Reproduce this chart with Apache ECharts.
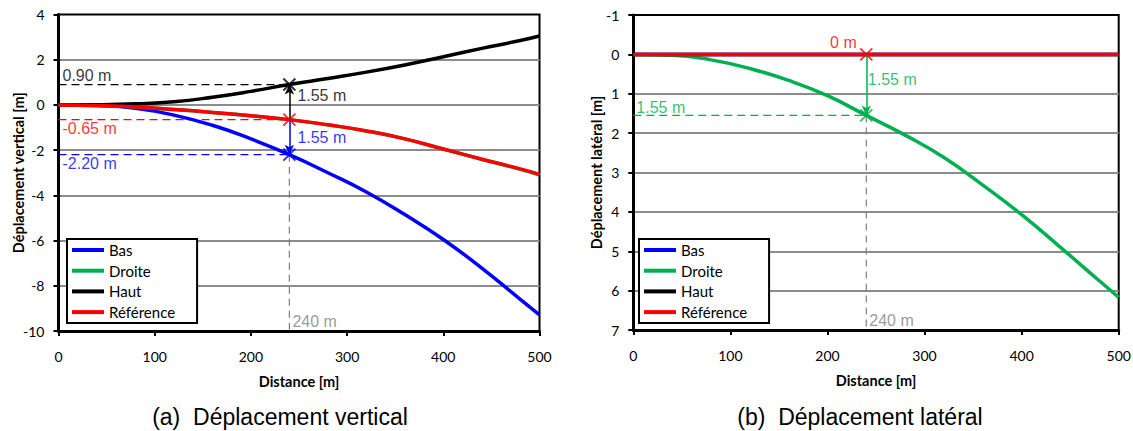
<!DOCTYPE html>
<html><head><meta charset="utf-8">
<script src="https://cdn.jsdelivr.net/npm/echarts@6/dist/echarts.min.js"></script>
<style>html,body{margin:0;padding:0;background:#fff}#c{width:1133px;height:431px}</style>
</head><body><div id="c"></div>
<script>
// ---------- DATA ----------
const distance        = [0, 40, 80, 120, 160, 200, 240, 280, 320, 360, 400, 440, 480, 500];
// (a) vertical displacement [m]
const basVertical     = [0, -0.03, -0.15, -0.45, -0.90, -1.50, -2.20, -3.00, -3.85, -4.85, -5.95, -7.22, -8.60, -9.29];
const droiteVertical  = [0, -0.02, -0.09, -0.20, -0.33, -0.48, -0.65, -0.88, -1.15, -1.50, -1.95, -2.40, -2.85, -3.10];
const hautVertical    = [0, 0.01, 0.05, 0.14, 0.34, 0.60, 0.90, 1.17, 1.45, 1.77, 2.13, 2.50, 2.85, 3.05];
const refVertical     = [0, -0.02, -0.09, -0.20, -0.33, -0.48, -0.65, -0.88, -1.15, -1.50, -1.95, -2.40, -2.83, -3.07];
// (b) lateral displacement [m]
const basLateral      = [0, 0, 0, 0, 0, 0, 0, 0, 0, 0, 0, 0, 0, 0];
const droiteLateral   = [0, 0.02, 0.14, 0.36, 0.66, 1.05, 1.55, 2.05, 2.62, 3.32, 4.07, 4.90, 5.75, 6.17];
const hautLateral     = [0, 0, 0, 0, 0, 0, 0, 0, 0, 0, 0, 0, 0, 0];
const refLateral      = [0, 0, 0, 0, 0, 0, 0, 0, 0, 0, 0, 0, 0, 0];
// probe point
const probeDistance   = 240;
const probeVertical   = [0.90, -0.65, -2.20];   // Haut, Référence, Bas
const probeLateral    = [0, 1.55];              // Référence, Droite
const seriesNames     = ['Bas', 'Droite', 'Haut', 'Référence'];
const seriesColors    = ['#0000ff', '#00b050', '#000000', '#ff0000'];
const captions        = ['(a)  Déplacement vertical', '(b)  Déplacement latéral'];
const axisTitles      = ['Distance [m]', 'Déplacement vertical [m]', 'Déplacement latéral [m]'];

// ---------- CHART ----------
const pair = (xs, ys) => xs.map((x, i) => [x, ys[i]]);
const fmt = v => v.toFixed(2) + ' m';
const TICK_FONT = 'Lato';
const ANN_FONT = 'Liberation Sans';
const GRAY = '#808080';

const chart = echarts.init(document.getElementById('c'), null, {renderer: 'svg'});

function curves(gi, arrays) {
  return arrays.map((arr, i) => ({
    name: seriesNames[i], type: 'line', xAxisIndex: gi, yAxisIndex: gi,
    data: pair(distance, arr), showSymbol: false, symbol: 'none', smooth: 0.5,
    lineStyle: {color: seriesColors[i], width: 3.5}, itemStyle: {color: seriesColors[i]},
    z: 3, silent: true
  }));
}
function guide(gi, pts, color, dash) {
  return {type: 'line', xAxisIndex: gi, yAxisIndex: gi, data: pts, symbol: 'none', silent: true, z: 2,
    lineStyle: {color: color, width: 1.2, type: dash}};
}
function cross(gi, pt, color) {
  return {type: 'scatter', xAxisIndex: gi, yAxisIndex: gi, data: [pt], silent: true, z: 6,
    symbol: 'path://M0,0L10,10M10,0L0,10', symbolSize: 12,
    itemStyle: {color: 'transparent', borderColor: color, borderWidth: 2}};
}
function arrow(gi, from, to, color) {
  return {type: 'line', xAxisIndex: gi, yAxisIndex: gi, data: [from, to], symbol: 'none', silent: true, z: 5,
    lineStyle: {opacity: 0},
    markLine: {silent: true, animation: false, symbol: ['none', 'arrow'], symbolSize: [7, 10],
      label: {show: false}, lineStyle: {color: color, width: 1.5, type: 'solid'},
      data: [[{coord: from}, {coord: to}]]}};
}
function label(gi, pt, text, color, pos, align) {
  return {type: 'scatter', xAxisIndex: gi, yAxisIndex: gi, data: [pt], symbolSize: 1, silent: true, z: 7,
    itemStyle: {color: 'transparent'},
    label: {show: true, formatter: text, position: pos, align: align || 'left', verticalAlign: 'middle',
      color: color, fontSize: 16, fontFamily: ANN_FONT}};
}

const [hautP, refP, basP] = probeVertical;
const [refL, droiteL] = probeLateral;

const series = [
  ...curves(0, [basVertical, droiteVertical, hautVertical, refVertical]),
  ...curves(1, [basLateral, droiteLateral, hautLateral, refLateral]),
  // (a) guides
  guide(0, [[0, hautP], [probeDistance, hautP]], '#000000', [8, 5]),
  guide(0, [[0, refP], [probeDistance, refP]], '#ff0000', [8, 5]),
  guide(0, [[0, basP], [probeDistance, basP]], '#0000ff', [8, 5]),
  guide(0, [[probeDistance, basP], [probeDistance, -10]], GRAY, [7, 5]),
  arrow(0, [probeDistance, refP], [probeDistance, hautP], '#000000'),
  arrow(0, [probeDistance, refP], [probeDistance, basP], '#0000ff'),
  cross(0, [probeDistance, hautP], '#000000'),
  cross(0, [probeDistance, refP], '#ff0000'),
  cross(0, [probeDistance, basP], '#0000ff'),
  label(0, [0, hautP], fmt(hautP), '#000000', [4.5, -8.5]),
  label(0, [0, refP], fmt(refP), '#ff0000', [4.5, 9.5]),
  label(0, [0, basP], fmt(basP), '#0000ff', [4.5, 9.5]),
  label(0, [probeDistance, hautP], fmt(hautP - refP), '#000000', [8.5, 11.5]),
  label(0, [probeDistance, refP], fmt(refP - basP), '#0000ff', [8.5, 18.5]),
  label(0, [probeDistance, -10], probeDistance + ' m', GRAY, [3.5, -9.5]),
  // (b) guides
  guide(1, [[0, droiteL], [probeDistance, droiteL]], '#00b050', [8, 5]),
  guide(1, [[probeDistance, droiteL], [probeDistance, 7]], GRAY, [7, 5]),
  arrow(1, [probeDistance, refL], [probeDistance, droiteL], '#00b050'),
  cross(1, [probeDistance, refL], '#ff0000'),
  cross(1, [probeDistance, droiteL], '#00b050'),
  label(1, [probeDistance, refL], refL + ' m', '#ff0000', [-9, -11.5], 'right'),
  label(1, [probeDistance, refL], fmt(droiteL - refL), '#00b050', [2, 26]),
  label(1, [0, droiteL], fmt(droiteL), '#00b050', [3.5, -7.5]),
  label(1, [probeDistance, 7], probeDistance + ' m', GRAY, [3.5, -9.5])
];

function xAxis(gi) {
  return {gridIndex: gi, type: 'value', min: 0, max: 500, interval: 100,
    name: axisTitles[0], nameLocation: 'middle', nameGap: 43,
    nameTextStyle: {fontFamily: TICK_FONT, fontWeight: 'bold', fontSize: 14.5, color: '#000'},
    axisLine: {show: true, onZero: false, lineStyle: {color: '#000', width: 3}},
    axisTick: {show: true, inside: false, length: 5, lineStyle: {color: '#000', width: 2}},
    axisLabel: {margin: 18, fontFamily: TICK_FONT, fontSize: 14, color: '#000'},
    splitLine: {show: false}};
}
function yAxis(gi, min, max, interval, inverse, title, gap) {
  return {gridIndex: gi, type: 'value', min: min, max: max, interval: interval, inverse: inverse,
    name: title, nameLocation: 'middle', nameGap: gap, nameRotate: 90, nameMoveOverlap: false,
    nameTextStyle: {fontFamily: TICK_FONT, fontWeight: 'bold', fontSize: 14.5, color: '#000'},
    axisLine: {show: true, onZero: false, lineStyle: {color: '#000', width: 3}},
    axisTick: {show: true, inside: false, length: 5, lineStyle: {color: '#000', width: 2}},
    axisLabel: {margin: 14, fontFamily: TICK_FONT, fontSize: 14, color: '#000'},
    splitLine: {show: true, showMinLine: false, showMaxLine: false, lineStyle: {color: '#8c8c8c', width: 2}}};
}
function legend(left) {
  return {data: seriesNames, left: left, top: 239, orient: 'vertical', icon: 'rect',
    itemWidth: 32, itemHeight: 4, itemGap: 5.7, padding: [3.5, 22, 3.5, 5],
    borderColor: '#000', borderWidth: 2, backgroundColor: '#fff', selectedMode: false,
    textStyle: {fontFamily: TICK_FONT, fontSize: 15, color: '#000', lineHeight: 15}};
}

chart.setOption({
  animation: false,
  backgroundColor: '#fff',
  grid: [
    {left: 58.5, top: 14.5, width: 481, height: 316.5, show: true, borderColor: '#000', borderWidth: 2, containLabel: false, outerBoundsMode: 'none'},
    {left: 633.3, top: 15, width: 485.4, height: 315, show: true, borderColor: '#000', borderWidth: 2, containLabel: false, outerBoundsMode: 'none'}
  ],
  xAxis: [xAxis(0), xAxis(1)],
  yAxis: [yAxis(0, -10, 4, 2, false, axisTitles[1], 33), yAxis(1, -1, 7, 1, true, axisTitles[2], 29)],
  legend: [legend(67), legend(639)],
  series: series,
  graphic: [
    {type: 'text', silent: true, style: {text: captions[0], x: 280, y: 417, align: 'center', verticalAlign: 'middle', fontSize: 23, fontFamily: ANN_FONT, fill: '#000'}},
    {type: 'text', silent: true, style: {text: captions[1], x: 860, y: 417, align: 'center', verticalAlign: 'middle', fontSize: 23, fontFamily: ANN_FONT, fill: '#000'}}
  ]
});
</script></body></html>
